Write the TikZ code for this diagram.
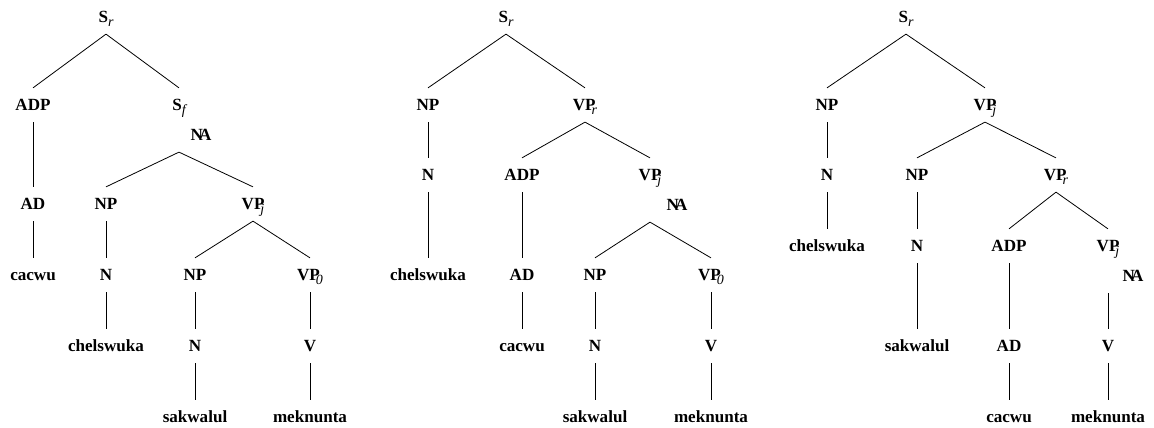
\documentclass[tikz,border=0pt]{standalone}
\usepackage{fontspec}
\setmainfont{Liberation Serif}
\tikzstyle{cat}    = [font=\fontsize{12.8}{15}\selectfont\bfseries, inner xsep=0pt, inner ysep=7.5pt, text height=9.3pt, text depth=1pt]
\tikzstyle{branch} = [line width=0.6pt]
\def\subf{\fontsize{10.5}{10.5}\selectfont\mdseries\itshape}
\def\s#1{S\lower3pt\hbox{\subf #1}}
\def\vp#1{VP\kern-3pt\lower3pt\hbox{\subf #1}}
\def\na{N\kern-3pt A}

\begin{document}
\begin{tikzpicture}[x=0.75pt,y=-0.75pt]
  \useasboundingbox (0,0) rectangle (1154,428);
  % tree 1
  \node[cat] (sr1)    at (106,17)  {\s r};
  \node[cat] (adp1)   at (33,105)  {ADP};
  \node[cat] (sf1)    at (179,105) {\s f};
  \node[cat] (na1)    at (201,135) {\na};
  \node[cat] (ad1)    at (33,204)  {AD};
  \node[cat] (np1)    at (106,204) {NP};
  \node[cat] (vpj1)   at (253,204) {\vp j};
  \node[cat] (cacwu1) at (33,275)  {cacwu};
  \node[cat] (n1)     at (106,275) {N};
  \node[cat] (np1b)   at (195,275) {NP};
  \node[cat] (vp01)   at (310,275) {\vp 0};
  \node[cat] (chel1)  at (106,346) {chelswuka};
  \node[cat] (n1b)    at (195,346) {N};
  \node[cat] (v1)     at (310,346) {V};
  \node[cat] (sak1)   at (195,417) {sakwalul};
  \node[cat] (mek1)   at (310,417) {meknunta};
  % tree 2
  \node[cat] (sr2)    at (506,17)  {\s r};
  \node[cat] (np2)    at (428,105) {NP};
  \node[cat] (vpr2)   at (585,105) {\vp r};
  \node[cat] (n2)     at (428,175) {N};
  \node[cat] (adp2)   at (522,175) {ADP};
  \node[cat] (vpj2)   at (650,175) {\vp j};
  \node[cat] (na2)    at (677,205) {\na};
  \node[cat] (chel2)  at (428,275) {chelswuka};
  \node[cat] (ad2)    at (522,275) {AD};
  \node[cat] (np2b)   at (595,275) {NP};
  \node[cat] (vp02)   at (711,275) {\vp 0};
  \node[cat] (cacwu2) at (522,346) {cacwu};
  \node[cat] (n2b)    at (595,346) {N};
  \node[cat] (v2)     at (711,346) {V};
  \node[cat] (sak2)   at (595,417) {sakwalul};
  \node[cat] (mek2)   at (711,417) {meknunta};
  % tree 3
  \node[cat] (sr3)    at (906,17)   {\s r};
  \node[cat] (np3)    at (827,105)  {NP};
  \node[cat] (vpj3)   at (985,105)  {\vp j};
  \node[cat] (n3)     at (827,175)  {N};
  \node[cat] (np3b)   at (917,175)  {NP};
  \node[cat] (vpr3)   at (1056,175) {\vp r};
  \node[cat] (chel3)  at (827,246)  {chelswuka};
  \node[cat] (n3b)    at (917,246)  {N};
  \node[cat] (adp3)   at (1009,246) {ADP};
  \node[cat] (vpj3b)  at (1108,246) {\vp j};
  \node[cat] (na3)    at (1133,276) {\na};
  \node[cat] (sak3)   at (917,346)  {sakwalul};
  \node[cat] (ad3)    at (1009,346) {AD};
  \node[cat] (v3)     at (1108,346) {V};
  \node[cat] (cacwu3) at (1009,417) {cacwu};
  \node[cat] (mek3)   at (1108,417) {meknunta};
  % branches
  \foreach \a/\b in {sr1/adp1, sr1/sf1, adp1/ad1, ad1/cacwu1, np1/n1, vpj1/np1b, vpj1/vp01,
                     n1/chel1, np1b/n1b, vp01/v1, n1b/sak1, v1/mek1,
                     sr2/np2, sr2/vpr2, np2/n2, vpr2/adp2, vpr2/vpj2, n2/chel2, adp2/ad2,
                     ad2/cacwu2, np2b/n2b, vp02/v2, n2b/sak2, v2/mek2,
                     sr3/np3, sr3/vpj3, np3/n3, vpj3/np3b, vpj3/vpr3, n3/chel3, np3b/n3b,
                     vpr3/adp3, vpr3/vpj3b, n3b/sak3, adp3/ad3, ad3/cacwu3, v3/mek3}
    \draw[branch] (\a.south) -- (\b.north);
  % branches below NA
  \foreach \p/\q/\b in {sf1/na1/np1, sf1/na1/vpj1, vpj2/na2/np2b, vpj2/na2/vp02, vpj3b/na3/v3}
    \draw[branch] (\p |- \q.south) -- (\b.north);
\end{tikzpicture}
\end{document}
